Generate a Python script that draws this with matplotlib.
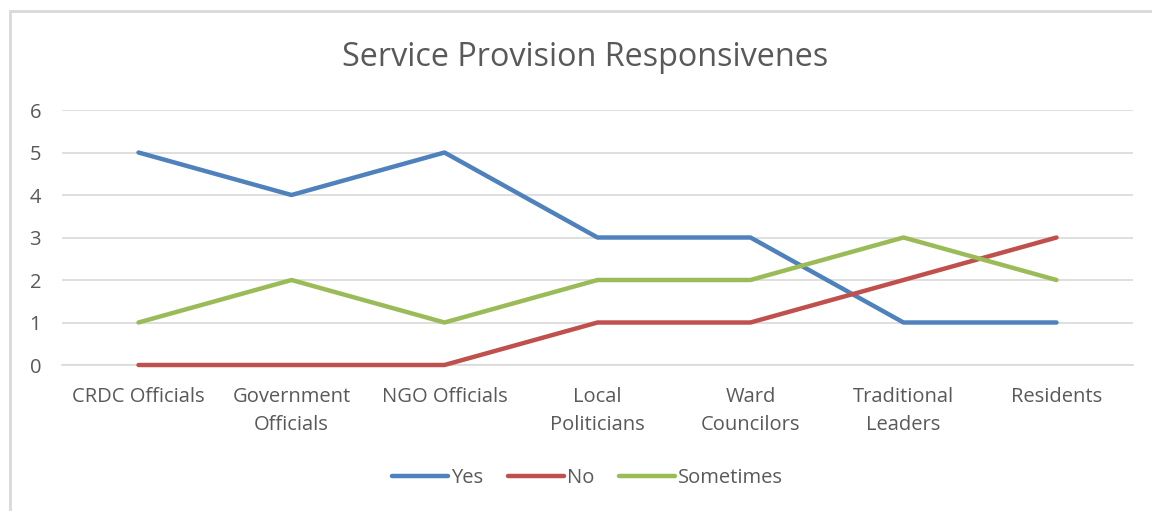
import matplotlib.pyplot as plt
from matplotlib.patches import Rectangle

# Categories and series values
categories = ['CRDC Officials', 'Government\nOfficials', 'NGO Officials', 'Local\nPoliticians',
              'Ward\nCouncilors', 'Traditional\nLeaders', 'Residents']
yes = [5, 4, 5, 3, 3, 1, 1]
no = [0, 0, 0, 1, 1, 2, 3]
sometimes = [1, 2, 1, 2, 2, 3, 2]

plt.rcParams['font.family'] = ['Open Sans', 'DejaVu Sans']
text_color = '#595959'
fs = 14.5

fig = plt.figure(figsize=(11.52, 5.11), dpi=100)
ax = fig.add_axes([62 / 1152, 1 - 365 / 511, 1071 / 1152, 255 / 511])

x = range(len(categories))
ax.plot(x, yes, color='#4F81BD', lw=3.2, label='Yes', solid_capstyle='round', clip_on=False, zorder=3)
ax.plot(x, no, color='#C0504D', lw=3.2, label='No', solid_capstyle='round', clip_on=False, zorder=3)
ax.plot(x, sometimes, color='#9BBB59', lw=3.2, label='Sometimes', solid_capstyle='round', clip_on=False, zorder=3)

ax.set_xlim(-0.5, len(categories) - 0.5)
ax.set_ylim(0, 6)
ax.set_yticks(range(7))
ax.set_xticks(list(x))
ax.set_xticklabels(categories, linespacing=1.55)
ax.tick_params(axis='both', length=0, labelsize=fs, colors=text_color)
ax.tick_params(axis='x', pad=16)
ax.tick_params(axis='y', pad=15)
ax.grid(axis='y', color='#D9D9D9', lw=1.2)
ax.set_axisbelow(True)
for s in ['left', 'right', 'top']:
    ax.spines[s].set_visible(False)
ax.spines['bottom'].set_color('#D9D9D9')
ax.spines['bottom'].set_linewidth(1.2)

fig.text(0.508, 1 - 57 / 511, 'Service Provision Responsivenes', ha='center', va='center',
         fontsize=23.3, color=text_color)

leg = fig.legend(loc='center', bbox_to_anchor=(0.510, 1 - 478 / 511), ncol=3, frameon=False,
                 fontsize=fs, handlelength=2.8, handletextpad=0.15, columnspacing=1.2)
for t in leg.get_texts():
    t.set_color(text_color)

# chart border (right and bottom edges fall outside the image)
fig.patches.append(Rectangle((10 / 1152, -0.1), 1.2, 1 - 10.5 / 511 + 0.1, transform=fig.transFigure,
                             fill=False, edgecolor='#D9D9D9', lw=2, zorder=0))

fig.savefig('out.png', dpi=100)
